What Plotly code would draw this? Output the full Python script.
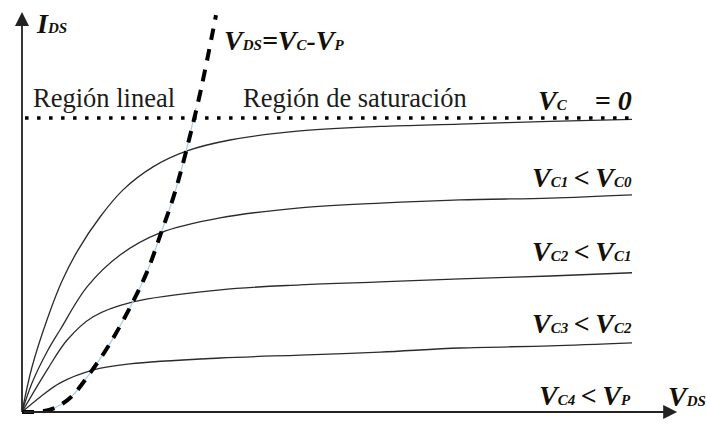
import plotly.graph_objects as go

W, H = 707, 427

# Drain voltage samples (V) and drain current (mA) for each gate-voltage curve
vds_c0 = [0, 0.164, 0.426, 0.656, 0.918, 1.279, 1.656, 2.148, 2.705, 3.41, 4.56, 5.87, 7.18, 8.66, 10.0]
ids_c0 = [0, 1.525, 3.22, 4.44, 5.49, 6.61, 7.53, 8.31, 8.85, 9.22, 9.53, 9.68, 9.76, 9.85, 9.92]

vds_c1 = [0, 0.164, 0.426, 0.623, 1.066, 1.607, 2.262, 3.246, 4.557, 5.869, 7.18, 8.66, 10.0]
ids_c1 = [0, 0.983, 2.10, 2.78, 4.24, 5.32, 6.07, 6.58, 6.92, 7.08, 7.19, 7.25, 7.36]

vds_c2 = [0, 0.41, 0.74, 1.16, 1.82, 3.25, 4.56, 5.87, 7.18, 8.66, 10.0]
ids_c2 = [0, 1.42, 2.44, 3.22, 3.73, 4.14, 4.31, 4.41, 4.51, 4.61, 4.72]

vds_c3 = [0, 0.30, 0.62, 1.16, 1.77, 3.25, 4.56, 5.87, 7.18, 8.66, 10.0]
ids_c3 = [0, 0.51, 0.98, 1.42, 1.63, 1.83, 1.93, 2.03, 2.17, 2.24, 2.34]

# Pinch-off locus V_DS = V_C - V_P
vds_pinch = [0, 0.33, 0.55, 0.80, 1.13, 1.45, 1.80, 2.05, 2.28, 2.50, 2.70, 2.93, 3.18]
ids_pinch = [0, 0.02, 0.15, 0.50, 1.36, 2.35, 3.66, 4.75, 6.07, 7.40, 8.92, 10.90, 13.45]

# Thin guide under the pinch-off locus
vds_guide = [0.33, 0.55, 0.80, 1.13, 1.45, 1.80, 2.05, 2.28, 2.50, 2.70, 2.85]
ids_guide = [0.0, 0.15, 0.50, 1.36, 2.35, 3.66, 4.75, 6.07, 7.40, 8.92, 10.30]

# Saturation current level for V_C = 0
vds_sat = [0.05, 10.02]
ids_sat = [9.97, 9.97]

# Axis extents (arrow tips)
vds_max = 10.74
ids_max = 13.56

# pixel scale of the drawing
SX, SY = 61.0, 29.5
OX, OY = 22, 412

fig = go.Figure()

curve_style = dict(color="#2b2b2b", width=1.3, shape="spline", smoothing=1.0)
for xs, ys in [(vds_c0, ids_c0), (vds_c1, ids_c1), (vds_c2, ids_c2), (vds_c3, ids_c3)]:
    fig.add_trace(go.Scatter(x=xs, y=ys, mode="lines", line=curve_style,
                             hoverinfo="skip", showlegend=False))

fig.add_trace(go.Scatter(x=vds_guide, y=ids_guide, mode="lines",
                         line=dict(color="#a9c9ea", width=1.2, shape="spline", smoothing=1.0),
                         hoverinfo="skip", showlegend=False))
fig.add_trace(go.Scatter(x=vds_pinch, y=ids_pinch, mode="lines",
                         line=dict(color="black", width=4, dash="12px,9px",
                                   shape="spline", smoothing=1.0),
                         hoverinfo="skip", showlegend=False))
fig.add_trace(go.Scatter(x=vds_sat, y=ids_sat, mode="lines",
                         line=dict(color="black", width=3.5, dash="3.5px,8.5px"),
                         hoverinfo="skip", showlegend=False))


def px(x):
    return x / W


def py(y):
    return 1 - y / H


ann = []
# axes with arrowheads
for tx, ty in [(vds_max, 0), (0, ids_max)]:
    ann.append(dict(x=tx, y=ty, ax=0, ay=0, xref="x", yref="y", axref="x", ayref="y",
                    text="", showarrow=True, arrowhead=2, arrowsize=1.55,
                    arrowwidth=1.8, arrowcolor="#222"))

vfont = dict(family="Liberation Serif", size=28, color="#141008")
rfont = dict(family="Liberation Serif", size=26.5, color="#1c1c1c")


def label(text, x, y, xanchor, font):
    ann.append(dict(text=text, x=px(x), y=py(y), xref="paper", yref="paper",
                    xanchor=xanchor, yanchor="middle", showarrow=False, font=font))


def bi(s):
    return "<b><i>" + s + "</i></b>"


def sub(s):
    # small index letters resting on the baseline
    return '<span style="font-size:15px">' + s + "</span>"


LT = "\u2009&lt;\u2009"

label(bi("I" + sub("DS")), 34, 24, "left", vfont)
label(bi("V" + sub("DS") + "=V" + sub("C") + "-V" + sub("P")), 222, 40, "left", vfont)
label("Región lineal", 31, 98, "left", rfont)
label("Región de saturación", 241, 98, "left", rfont)
label(bi("V" + sub("C") + "\u00a0\u00a0\u00a0\u00a0= 0"), 634, 100, "right", vfont)
label(bi("V" + sub("C1") + LT + "V" + sub("C0")), 634, 177, "right", vfont)
label(bi("V" + sub("C2") + LT + "V" + sub("C1")), 634, 251, "right", vfont)
label(bi("V" + sub("C3") + LT + "V" + sub("C2")), 634, 323, "right", vfont)
label(bi("V" + sub("C4") + LT + "V" + sub("P")), 633, 395, "right", vfont)
label(bi("V" + sub("DS")), 666, 396, "left", vfont)

fig.update_layout(
    width=W, height=H,
    margin=dict(l=0, r=0, t=0, b=0),
    paper_bgcolor="white", plot_bgcolor="white",
    xaxis=dict(range=[-OX / SX, (W - OX) / SX], visible=False, fixedrange=True),
    yaxis=dict(range=[(OY - H) / SY, OY / SY], visible=False, fixedrange=True),
    annotations=ann,
    showlegend=False,
)

fig.write_html("out.html")
